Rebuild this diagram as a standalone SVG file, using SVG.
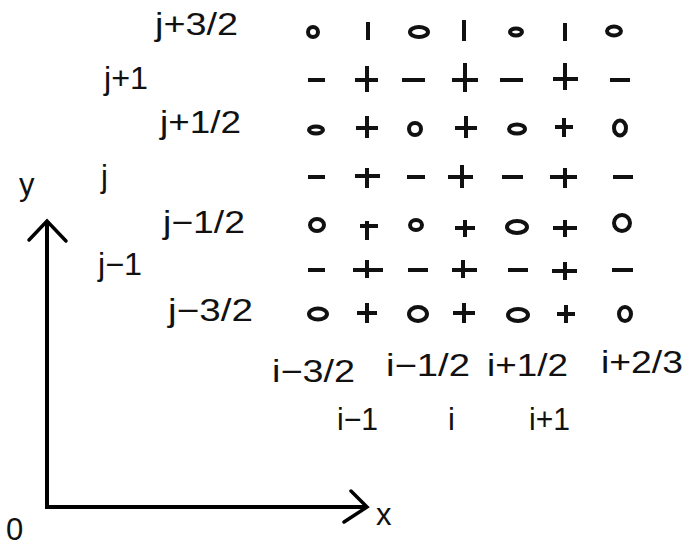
<svg xmlns="http://www.w3.org/2000/svg" width="689" height="548" viewBox="0 0 689 548">
<style>
text{font-family:"Liberation Sans",Arial,sans-serif;font-size:31px;fill:#111}
.o{fill:none;stroke:#111;stroke-width:4}
.s{stroke:#111;stroke-width:4;stroke-linecap:butt;fill:none}
.ax{stroke:#000;stroke-width:4;fill:none}
.ah{stroke:#000;stroke-width:3.5;fill:none;stroke-linecap:round;stroke-linejoin:miter}
</style>
<rect width="689" height="548" fill="#fff"/>
<g id="row-labels">
<text x="155" y="35" textLength="83" lengthAdjust="spacingAndGlyphs">j+3/2</text>
<text x="104" y="89" textLength="44" lengthAdjust="spacingAndGlyphs">j+1</text>
<text x="160" y="133" textLength="81" lengthAdjust="spacingAndGlyphs">j+1/2</text>
<text x="101" y="187">j</text>
<text x="163" y="233" textLength="82" lengthAdjust="spacingAndGlyphs">j−1/2</text>
<text x="98" y="275" textLength="44" lengthAdjust="spacingAndGlyphs">j−1</text>
<text x="168" y="321" textLength="85" lengthAdjust="spacingAndGlyphs">j−3/2</text>
</g>
<g id="col-labels">
<text x="272" y="382" textLength="83" lengthAdjust="spacingAndGlyphs">i−3/2</text>
<text x="386" y="376" textLength="84" lengthAdjust="spacingAndGlyphs">i−1/2</text>
<text x="487" y="376" textLength="81" lengthAdjust="spacingAndGlyphs">i+1/2</text>
<text x="601" y="373" textLength="82" lengthAdjust="spacingAndGlyphs">i+2/3</text>
<text x="337" y="430" textLength="41" lengthAdjust="spacingAndGlyphs">i−1</text>
<text x="448" y="430">i</text>
<text x="529" y="430" textLength="41" lengthAdjust="spacingAndGlyphs">i+1</text>
</g>
<g id="axes">
<path class="ax" d="M47,221 V507 H366"/>
<path class="ah" d="M29,240 L47,221 L66,241"/>
<path class="ah" d="M351,491 L367,507 L344,522"/>
<text x="19" y="195">y</text>
<text x="376" y="525">x</text>
<text x="6" y="540">0</text>
</g>
<g id="grid">
<ellipse class="o" cx="313" cy="32" rx="5" ry="5"/>
<path class="s" d="M368,22 V40"/>
<ellipse class="o" cx="419" cy="32" rx="9" ry="5"/>
<path class="s" d="M464,20 V41"/>
<ellipse class="o" cx="516" cy="32" rx="6" ry="3.5"/>
<path class="s" d="M565,23 V41"/>
<ellipse class="o" cx="614" cy="31" rx="7" ry="4.5"/>
<path class="s" d="M308,80 H325 M355,80 H378 M367,66 V92 M402,80 H425 M452,80 H478 M465,63 V92 M500,80 H523 M553,79 H578 M565,63 V90 M610,80 H630"/>
<ellipse class="o" cx="316" cy="130" rx="7" ry="3.5"/>
<path class="s" d="M356,128 H378 M367,116 V138"/>
<ellipse class="o" cx="415" cy="129" rx="6" ry="6"/>
<path class="s" d="M455,128 H477 M466,116 V138"/>
<ellipse class="o" cx="517" cy="129" rx="8" ry="4.5"/>
<path class="s" d="M555,127 H573 M564,118 V137"/>
<ellipse class="o" cx="620" cy="128" rx="6" ry="7.5"/>
<path class="s" d="M308,177 H325 M355,176 H380 M367,168 V188 M407,177 H425 M448,177 H473 M462,165 V188 M502,177 H523 M550,177 H577 M565,168 V188 M613,177 H633"/>
<ellipse class="o" cx="317" cy="225" rx="7" ry="6"/>
<path class="s" d="M360,226 H378 M367,221 V240"/>
<ellipse class="o" cx="416" cy="225" rx="6" ry="5"/>
<path class="s" d="M455,228 H475 M465,220 V237"/>
<ellipse class="o" cx="517" cy="227" rx="10" ry="6"/>
<path class="s" d="M553,228 H577 M565,220 V237"/>
<ellipse class="o" cx="622" cy="223" rx="8" ry="8"/>
<path class="s" d="M308,270 H325 M353,270 H383 M367,260 V278 M408,270 H428 M452,270 H477 M463,260 V278 M508,270 H528 M552,271 H577 M565,262 V280 M612,270 H633"/>
<ellipse class="o" cx="318" cy="314" rx="9" ry="5.5"/>
<path class="s" d="M357,313 H377 M367,303 V323"/>
<ellipse class="o" cx="418" cy="314" rx="9" ry="7"/>
<path class="s" d="M453,313 H475 M464,303 V323"/>
<ellipse class="o" cx="518" cy="315" rx="10" ry="6"/>
<path class="s" d="M557,314 H575 M566,305 V323"/>
<ellipse class="o" cx="625" cy="314" rx="6" ry="7"/>
</g>
</svg>
